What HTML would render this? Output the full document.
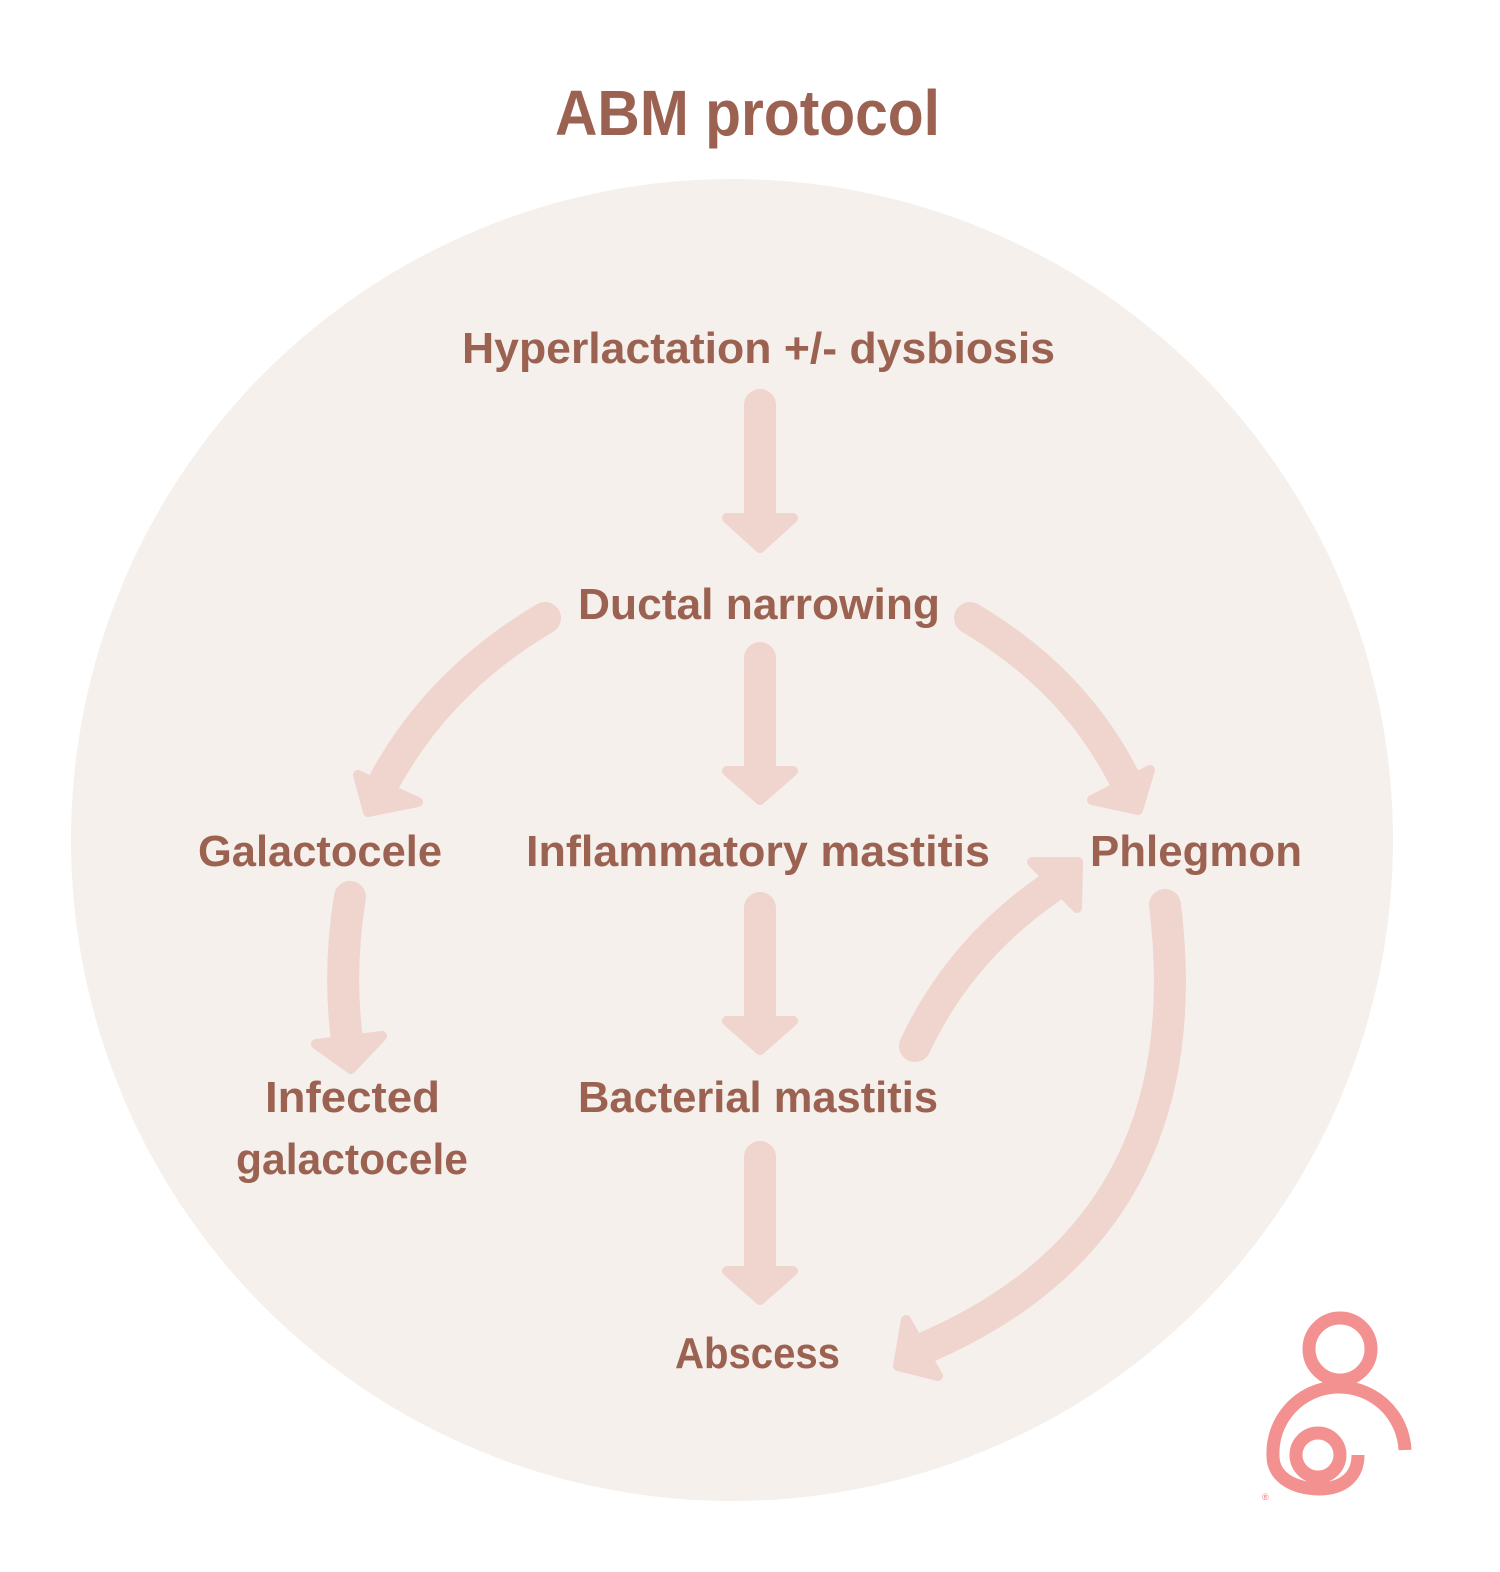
<!DOCTYPE html>
<html><head><meta charset="utf-8"><style>
html,body{margin:0;padding:0;background:#fff}
svg{display:block}
text{font-family:"Liberation Sans",sans-serif;font-weight:bold;fill:#9b6252}
</style></head><body>
<svg width="1500" height="1572" viewBox="0 0 1500 1572" xmlns="http://www.w3.org/2000/svg">
<circle cx="732" cy="840" r="661" fill="#f5f0ec"/>
<text x="555" y="135" font-size="64" textLength="385" lengthAdjust="spacingAndGlyphs">ABM protocol</text>
<g font-size="44" lengthAdjust="spacingAndGlyphs">
<text x="462" y="363" textLength="593" lengthAdjust="spacingAndGlyphs">Hyperlactation +/- dysbiosis</text>
<text x="578" y="619" textLength="362" lengthAdjust="spacingAndGlyphs">Ductal narrowing</text>
<text x="198" y="866" textLength="244" lengthAdjust="spacingAndGlyphs">Galactocele</text>
<text x="526" y="866" textLength="464" lengthAdjust="spacingAndGlyphs">Inflammatory mastitis</text>
<text x="1090" y="866" textLength="212" lengthAdjust="spacingAndGlyphs">Phlegmon</text>
<text x="265" y="1112" textLength="175" lengthAdjust="spacingAndGlyphs">Infected</text>
<text x="236" y="1174" textLength="232" lengthAdjust="spacingAndGlyphs">galactocele</text>
<text x="578" y="1112" textLength="360" lengthAdjust="spacingAndGlyphs">Bacterial mastitis</text>
<text x="675" y="1368" textLength="165" lengthAdjust="spacingAndGlyphs">Abscess</text>
</g>
<g stroke="#f0d4ce" fill="none" stroke-width="32" stroke-linecap="round">
<path d="M760 405V515"/><path d="M760 658V768"/><path d="M760 908V1018"/><path d="M760 1157V1268"/>
<path d="M545 618Q440 680 385 780"/>
<path d="M970 618Q1075 680 1125 780"/>
<path d="M350 897Q338 970 347 1040"/>
<path d="M915 1046Q960 950 1050 888"/>
<path d="M1165 905Q1205 1230 920 1350"/>
</g>
<g fill="#f0d4ce" stroke="#f0d4ce" stroke-width="10" stroke-linejoin="round">
<polygon points="727,518 793,518 760,548"/>
<polygon points="727,771 793,771 760,800"/>
<polygon points="727,1021 793,1021 760,1050"/>
<polygon points="727,1271 793,1271 760,1300"/>
<polygon points="358,775 418,802 368,812"/>
<polygon points="1150,770 1092,800 1138,810"/>
<polygon points="316,1044 382,1036 351,1069"/>
<polygon points="1032,862 1077,908 1078,862"/>
<polygon points="906,1320 938,1376 898,1366"/>
</g>
<g fill="none" stroke="#f39190" stroke-width="13">
<circle cx="1340" cy="1349" r="31"/>
<circle cx="1318" cy="1455" r="22"/>
<path d="M1405 1450A64 64 0 0 0 1273 1456C1273 1475 1290 1488 1318 1489C1345 1489 1358 1475 1358 1455"/>
</g>
<text x="1262" y="1500" font-size="9" style="fill:#f39190">®</text>
</svg>
</body></html>
